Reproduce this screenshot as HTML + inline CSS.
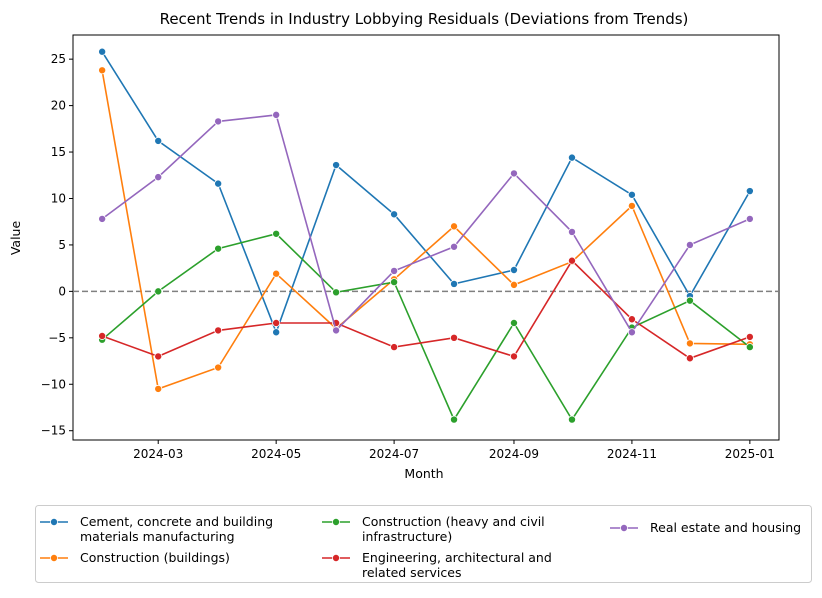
<!DOCTYPE html>
<html><head><meta charset="utf-8"><style>
body{margin:0;background:#fff;font-family:"Liberation Sans","DejaVu Sans",sans-serif;}
svg text{font-family:"DejaVu Sans","Liberation Sans",sans-serif;}
</style></head><body>
<svg id="chart" width="822" height="593" xmlns="http://www.w3.org/2000/svg">
<rect width="822" height="593" fill="#fff"/>
<text x="424" y="24" text-anchor="middle" font-size="15" fill="#000">Recent Trends in Industry Lobbying Residuals (Deviations from Trends)</text>
<g id="plot"></g>
<text x="424" y="478" text-anchor="middle" font-size="12.5">Month</text>
<text transform="translate(20,238) rotate(-90)" text-anchor="middle" font-size="12.5">Value</text>
<g id="legend"></g>
</svg>
<script>
const months = ["2024-02-01","2024-03-01","2024-04-01","2024-05-01","2024-06-01","2024-07-01","2024-08-01","2024-09-01","2024-10-01","2024-11-01","2024-12-01","2025-01-01"];
const seriesNames = ["Cement, concrete and building materials manufacturing","Construction (buildings)","Construction (heavy and civil infrastructure)","Engineering, architectural and related services","Real estate and housing"];
const cementValues = [25.8,16.2,11.6,-4.4,13.6,8.3,0.8,2.3,14.4,10.4,-0.5,10.8];
const buildingsValues = [23.8,-10.5,-8.2,1.9,-4.0,1.3,7.0,0.7,3.2,9.2,-5.6,-5.7];
const heavyCivilValues = [-5.2,0.0,4.6,6.2,-0.1,1.0,-13.8,-3.4,-13.8,-3.9,-1.0,-6.0];
const engineeringValues = [-4.8,-7.0,-4.2,-3.4,-3.4,-6.0,-5.0,-7.0,3.3,-3.0,-7.2,-4.9];
const realEstateValues = [7.8,12.3,18.3,19.0,-4.2,2.2,4.8,12.7,6.4,-4.4,5.0,7.8];
const yTicks = [-15,-10,-5,0,5,10,15,20,25];
const xTickLabels = ["2024-03","2024-05","2024-07","2024-09","2024-11","2025-01"];
const colors = ["#1f77b4","#ff7f0e","#2ca02c","#d62728","#9467bd"];
const allSeries = [cementValues,buildingsValues,heavyCivilValues,engineeringValues,realEstateValues];

const NS="http://www.w3.org/2000/svg";
const L=73,R=779,T=35,B=440;
const t0=Date.parse(months[0]), t1=Date.parse(months[months.length-1]);
const pad=(t1-t0)*0.045;
function xs(d){const t=Date.parse(d);return L+(t-(t0-pad))/((t1+pad)-(t0-pad))*(R-L);}
const yMin=-16,yMax=27.6;
function ys(v){return B-(v-yMin)/(yMax-yMin)*(B-T);}
function mk(tag,attrs,parent){const e=document.createElementNS(NS,tag);for(const k in attrs)e.setAttribute(k,attrs[k]);parent.appendChild(e);return e;}
const plot=document.getElementById('plot');
const frame=mk('rect',{x:L,y:T,width:R-L,height:B-T,fill:'none',stroke:'#000','stroke-width':1},plot);


yTicks.forEach(v=>{
  const y=ys(v);
  const tk=mk('line',{x1:L-4,x2:L,y1:y,y2:y,stroke:'#000'},plot);
  
  
  const tx=mk('text',{x:L-7,y:y+4,'text-anchor':'end','font-size':12},plot);
  tx.textContent=String(v).replace('-','\u2212');
  
  
});
xTickLabels.forEach(s=>{
  const x=xs(s+"-01");
  const tk=mk('line',{x1:x,x2:x,y1:B,y2:B+4,stroke:'#000'},plot);
  
  
  const tx=mk('text',{x:x,y:B+18,'text-anchor':'middle','font-size':12},plot);
  tx.textContent=s;
  
  
});
const zl=mk('line',{x1:L,x2:R,y1:ys(0),y2:ys(0),stroke:'#808080','stroke-width':1.5,'stroke-dasharray':'6,3'},plot);


allSeries.forEach((vals,i)=>{
  const g=mk('g',{},plot);
  
  
  const pts=vals.map((v,j)=>xs(months[j]).toFixed(1)+','+ys(v).toFixed(1)).join(' ');
  const pl=mk('polyline',{points:pts,fill:'none',stroke:colors[i],'stroke-width':1.6},g);
  
  
  vals.forEach((v,j)=>{
    const c=mk('circle',{cx:xs(months[j]),cy:ys(v),r:3.6,fill:colors[i],stroke:'#fff','stroke-width':0.8},g);
    
    
  });
});
const lg=document.getElementById('legend');
const box=mk('rect',{x:35.5,y:505.5,width:776,height:77,rx:3,fill:'#fff',stroke:'#ccc'},lg);


const entries=[
 {x:40,y:522,lines:["Cement, concrete and building","materials manufacturing"],c:0},
 {x:40,y:558,lines:["Construction (buildings)"],c:1},
 {x:322,y:522,lines:["Construction (heavy and civil","infrastructure)"],c:2},
 {x:322,y:558,lines:["Engineering, architectural and","related services"],c:3},
 {x:610,y:528,lines:["Real estate and housing"],c:4}
];
entries.forEach(e=>{
  const g=mk('g',{},lg);
  
  
  mk('line',{x1:e.x,x2:e.x+28,y1:e.y,y2:e.y,stroke:colors[e.c],'stroke-width':1.6},g);
  mk('circle',{cx:e.x+14,cy:e.y,r:3.6,fill:colors[e.c],stroke:'#fff','stroke-width':0.8},g);
  e.lines.forEach((s,k)=>{
    const t=mk('text',{x:e.x+40,y:e.y+4+k*15,'font-size':12.5},g);
    t.textContent=s;
  });
});
</script>
</body></html>
